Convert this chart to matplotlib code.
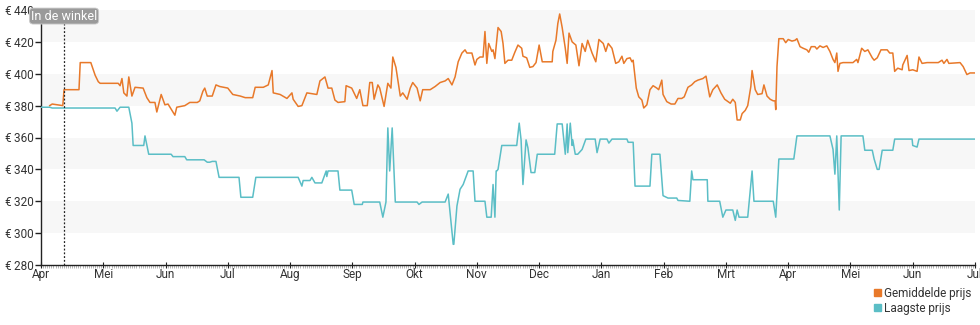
import matplotlib
matplotlib.use('Agg')
import matplotlib.pyplot as plt
from matplotlib.patches import Patch
from matplotlib.ticker import MultipleLocator, FuncFormatter

plt.rcParams['font.family'] = ['Roboto', 'DejaVu Sans']

# months since 1 april (the axis spaces every month equally)
month_labels = ['Apr', 'Mei', 'Jun', 'Jul', 'Aug', 'Sep', 'Okt', 'Nov', 'Dec',
                'Jan', 'Feb', 'Mrt', 'Apr', 'Mei', 'Jun', 'Jul']
in_store = 0.37

avg_t = [0.14, 0.18, 0.35, 0.37, 0.61, 0.63, 0.80, 0.87, 0.92, 0.95, 1.24, 1.27, 1.30, 1.33,
         1.38, 1.41, 1.46, 1.51, 1.64, 1.70, 1.75, 1.83, 1.86, 1.93, 1.99, 2.04, 2.15, 2.18,
         2.31, 2.39, 2.51, 2.55, 2.60, 2.63, 2.67, 2.75, 2.81, 2.87, 3.00, 3.08, 3.20, 3.28,
         3.40, 3.44, 3.57, 3.65, 3.71, 3.73, 3.84, 3.95, 4.03, 4.05, 4.13, 4.19, 4.27, 4.43,
         4.48, 4.56, 4.61, 4.67, 4.72, 4.77, 4.88, 4.90, 4.99, 5.07, 5.12, 5.17, 5.24, 5.28,
         5.32, 5.35, 5.41, 5.44, 5.51, 5.57, 5.62, 5.65, 5.70, 5.77, 5.81, 5.88, 5.93, 5.97,
         6.04, 6.09, 6.13, 6.25, 6.33, 6.41, 6.49, 6.54, 6.60, 6.65, 6.70, 6.76, 6.81, 6.84,
         6.92, 6.97, 7.00, 7.05, 7.10, 7.13, 7.16, 7.19, 7.24, 7.26, 7.29, 7.34, 7.39, 7.42,
         7.45, 7.50, 7.56, 7.61, 7.66, 7.72, 7.74, 7.80, 7.85, 7.90, 7.95, 8.00, 8.05, 8.21,
         8.22, 8.27, 8.30, 8.33, 8.37, 8.42, 8.45, 8.48, 8.53, 8.59, 8.64, 8.69, 8.74, 8.78,
         8.85, 8.91, 8.96, 9.03, 9.07, 9.11, 9.17, 9.23, 9.28, 9.33, 9.36, 9.41, 9.46, 9.49,
         9.51, 9.56, 9.60, 9.65, 9.68, 9.73, 9.78, 9.83, 9.89, 9.92, 9.97, 9.99, 10.05, 10.12,
         10.18, 10.23, 10.29, 10.33, 10.39, 10.45, 10.50, 10.55, 10.63, 10.68, 10.74, 10.79,
         10.86, 10.92, 10.98, 11.07, 11.11, 11.15, 11.18, 11.23, 11.26, 11.31, 11.35, 11.40,
         11.42, 11.47, 11.51, 11.58, 11.61, 11.66, 11.71, 11.76, 11.79, 11.80, 11.82, 11.85,
         11.92, 11.96, 12.00, 12.06, 12.11, 12.14, 12.19, 12.24, 12.30, 12.33, 12.37, 12.43,
         12.46, 12.51, 12.56, 12.62, 12.67, 12.72, 12.75, 12.78, 12.80, 12.83, 12.88, 13.04,
         13.10, 13.12, 13.18, 13.23, 13.28, 13.35, 13.38, 13.43, 13.49, 13.59, 13.63, 13.68,
         13.71, 13.76, 13.83, 13.84, 13.91, 13.94, 14.00, 14.07, 14.10, 14.15, 14.23, 14.41,
         14.47, 14.50, 14.55, 14.58, 14.76, 14.81, 14.87, 14.92, 15.00]
avg_price = [380, 381, 380, 390, 390, 407, 407, 399, 395, 394, 394, 392.5, 397, 388,
             386, 398, 386, 391.5, 391, 385, 382, 382, 376, 387, 380.5, 381, 374, 379,
             380, 382, 382, 383, 389, 391, 386, 386, 393, 392, 391, 387, 386, 385,
             385, 391.5, 391.5, 393, 402, 388, 387, 384.5, 388, 384, 379.5, 380, 388, 387,
             395.5, 398, 391, 391, 383.5, 382, 382.5, 392.5, 391, 384.5, 390, 380, 380, 394.5,
             394.5, 384, 393, 391, 379.5, 394, 391, 410.5, 404, 386, 388, 384, 391, 394.5,
             391, 383, 390, 390, 392, 394.5, 395.5, 397, 393, 398, 407.5, 413, 415, 413,
             413, 405.5, 409, 410.5, 410.5, 426.5, 406.5, 419, 414, 415, 409.5, 429, 426.5, 419,
             406.5, 408.5, 408.5, 413.5, 418, 416, 411, 410, 404, 404.5, 407, 418, 407.5, 407.5,
             414, 421, 431.5, 437.5, 429, 416, 406.5, 425.5, 420, 418, 405, 419, 414, 421,
             413, 407.5, 421.5, 419, 414, 419, 416, 406.5, 407.5, 411, 406.5, 409.5, 410, 407.5,
             408.5, 391, 385.5, 383.5, 378.5, 380.5, 390, 392.5, 391, 390, 396, 387, 382.5, 381,
             381, 384.5, 384.5, 385.5, 391.5, 393, 395, 396, 397, 398.5, 385.5, 390,
             393, 388, 384, 381.5, 384, 382, 371, 371, 375, 377, 380, 392,
             402, 390, 387, 387.5, 393, 386, 384, 383, 383, 377.5, 404.5, 422,
             422, 419.5, 421.5, 420.5, 421, 422, 417, 416, 415, 413.5, 417, 417,
             415.5, 417.5, 416.5, 417.5, 414, 409, 407, 413, 401.5, 406.5, 407, 407,
             409, 407, 416, 414, 415, 410, 408.5, 410, 415, 415, 413, 413,
             401.5, 403.5, 402.5, 405.5, 411.5, 402, 402.5, 401.5, 410.5, 406.5, 407, 407,
             408.5, 406.5, 409, 406.5, 407, 404.5, 399.5, 400.5, 400.5]

low_t = [0.00, 0.14, 0.18, 1.19, 1.22, 1.27, 1.41, 1.46, 1.48, 1.65, 1.67, 1.73, 2.09, 2.12,
         2.31, 2.34, 2.62, 2.67, 2.71, 2.75, 2.81, 2.86, 3.18, 3.21, 3.40, 3.45, 4.13, 4.19,
         4.21, 4.32, 4.35, 4.40, 4.51, 4.58, 4.59, 4.61, 4.77, 4.80, 4.99, 5.03, 5.16, 5.17,
         5.44, 5.49, 5.54, 5.57, 5.60, 5.64, 5.69, 6.04, 6.07, 6.12, 6.49, 6.54, 6.62, 6.63,
         6.68, 6.73, 6.78, 6.86, 6.94, 6.97, 7.13, 7.16, 7.23, 7.26, 7.29, 7.31, 7.32, 7.34,
         7.40, 7.64, 7.68, 7.71, 7.74, 7.79, 7.82, 7.87, 7.93, 7.97, 8.25, 8.29, 8.37, 8.42,
         8.45, 8.46, 8.50, 8.53, 8.54, 8.58, 8.62, 8.69, 8.75, 8.90, 8.93, 8.98, 9.09, 9.12,
         9.17, 9.41, 9.43, 9.51, 9.54, 9.78, 9.81, 9.94, 9.99, 10.07, 10.21, 10.23, 10.42, 10.45,
         10.47, 10.70, 10.71, 10.90, 10.95, 11.00, 11.11, 11.15, 11.18, 11.21, 11.35, 11.42, 11.45,
         11.76, 11.80, 11.85, 12.09, 12.14, 12.67, 12.72, 12.75, 12.78, 12.82, 12.85, 13.20, 13.23,
         13.35, 13.38, 13.43, 13.46, 13.51, 13.68, 13.71, 13.99, 14.00, 14.07, 14.10, 15.00]
low_price = [379, 379, 378.5, 378.5, 376.5, 379, 379, 369, 355, 355, 361, 349.5, 349.5, 348,
             348, 346, 346, 344.5, 344.5, 345, 345, 335, 335, 322.5, 322.5, 335, 335, 329.5,
             333, 333, 335, 331.5, 331.5, 339, 335.5, 339, 339, 327, 327, 318, 318, 319.5,
             319.5, 310, 319.5, 366, 339, 366, 319.5, 319.5, 318, 319.5, 319.5, 324.5, 293, 293,
             317, 327.5, 330.5, 339, 339, 320, 320, 310, 310, 330.5, 310, 339, 339, 340,
             355, 355, 369, 358.5, 330.5, 358.5, 353.5, 338, 338, 349.5, 349.5, 368.5, 368.5, 349.5,
             368.5, 350.5, 369, 355, 358.5, 349.5, 349.5, 352.5, 359, 359, 350.5, 359, 359, 356.5,
             359, 359, 357, 357, 329.5, 329.5, 349.5, 349.5, 323.5, 322, 322, 320.5, 320, 339,
             333.5, 333.5, 320, 320, 310, 314.5, 314.5, 308, 314.5, 310, 310, 339, 320,
             320, 310, 346.5, 346.5, 361, 361, 352.5, 337, 361, 314.5, 361, 361, 352,
             352, 346.5, 340, 340, 352, 352, 359, 359, 355, 354, 359, 359]

avg_color = '#e8792a'
low_color = '#5bbec6'
text_color = '#333333'

fig = plt.figure(figsize=(9.8, 3.25), dpi=100)
ax = fig.add_axes([41 / 980, 1 - 265 / 325, 934 / 980, 255 / 325])

# alternating horizontal bands
for lo in range(300, 440, 40):
    ax.axhspan(lo, lo + 20, color='#f7f7f7', lw=0, zorder=0)

ax.plot(avg_t, avg_price, color=avg_color, lw=1.1, zorder=3)
ax.plot(low_t, low_price, color=low_color, lw=1.1, zorder=3)

ax.axvline(in_store, color='#222222', lw=0.9, ls=(0, (1.5, 1.5)), zorder=4)
ax.text(in_store, 436.2, 'In de winkel', ha='center', va='center', fontsize=9,
        color='white', zorder=5,
        bbox=dict(boxstyle='round,pad=0.12,rounding_size=0.3', fc='#9a9a9a', ec='#cccccc', lw=0.6))

ax.set_xlim(0, 15)
ax.set_ylim(280, 440)
ax.set_xticks(range(len(month_labels)))
ax.set_xticklabels(month_labels)
ax.xaxis.set_minor_locator(MultipleLocator(1 / 30))
ax.yaxis.set_major_locator(MultipleLocator(20))
ax.yaxis.set_major_formatter(FuncFormatter(lambda v, p: f'€\u2009{v:.0f}'))

for s in ['top', 'right']:
    ax.spines[s].set_visible(False)
for s in ['left', 'bottom']:
    ax.spines[s].set_color('#222222')
    ax.spines[s].set_linewidth(1.0)

ax.tick_params(axis='y', direction='out', length=4, width=1, color='#222222',
               labelsize=8.5, labelcolor=text_color, pad=1)
ax.tick_params(axis='x', which='major', direction='inout', length=5, width=0.8,
               color='#222222', labelsize=8.5, labelcolor=text_color, pad=0)
ax.tick_params(axis='x', which='minor', direction='out', length=2, width=0.5, color='#999999')

handles = [Patch(color=avg_color, label='Gemiddelde prijs'),
           Patch(color=low_color, label='Laagste prijs')]
fig.legend(handles=handles, loc='upper right', bbox_to_anchor=(0.997, 0.125 + 0.01),
           frameon=False, fontsize=8.5, handlelength=0.55, handleheight=0.55,
           handletextpad=0.25, labelspacing=0.15, borderpad=0, labelcolor=text_color)

fig.savefig('out.png', dpi=100)
